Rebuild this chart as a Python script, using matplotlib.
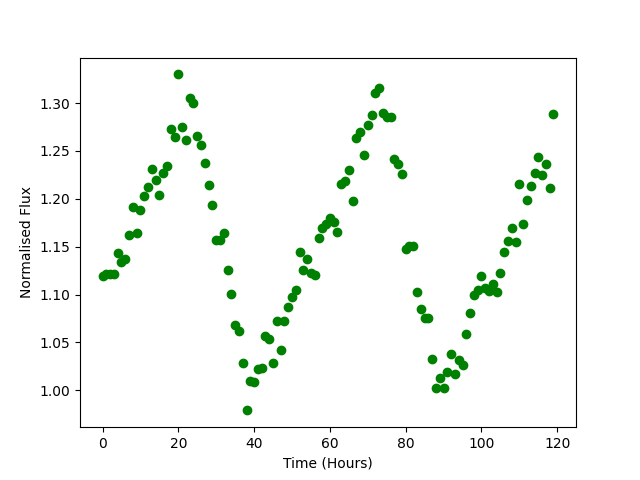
import numpy as np
import matplotlib
matplotlib.use('Agg')
import matplotlib.pyplot as plt

# Hourly normalised flux readings
hours = np.arange(120)
flux = [1.119, 1.122, 1.122, 1.122, 1.143, 1.134, 1.137, 1.162, 1.192, 1.164,
        1.188, 1.203, 1.212, 1.231, 1.220, 1.204, 1.227, 1.234, 1.273, 1.265,
        1.330, 1.275, 1.261, 1.305, 1.300, 1.266, 1.256, 1.237, 1.214, 1.194,
        1.157, 1.157, 1.164, 1.126, 1.101, 1.068, 1.062, 1.029, 0.979, 1.010,
        1.009, 1.022, 1.023, 1.057, 1.054, 1.028, 1.072, 1.042, 1.072, 1.087,
        1.097, 1.105, 1.144, 1.126, 1.137, 1.123, 1.120, 1.159, 1.170, 1.174,
        1.180, 1.176, 1.165, 1.216, 1.219, 1.230, 1.198, 1.264, 1.270, 1.246,
        1.277, 1.288, 1.311, 1.316, 1.290, 1.286, 1.286, 1.242, 1.236, 1.226,
        1.148, 1.151, 1.151, 1.103, 1.085, 1.076, 1.076, 1.033, 1.002, 1.013,
        1.002, 1.019, 1.038, 1.017, 1.032, 1.026, 1.059, 1.081, 1.100, 1.105,
        1.119, 1.107, 1.104, 1.111, 1.103, 1.123, 1.144, 1.156, 1.170, 1.155,
        1.215, 1.174, 1.199, 1.213, 1.227, 1.244, 1.225, 1.236, 1.211, 1.289]

fig = plt.figure(figsize=(6.4, 4.8), dpi=100)
plt.plot(hours, flux, 'go')
plt.xlabel('Time (Hours)')
plt.ylabel('Normalised Flux')
plt.savefig('out.png')
plt.close()
